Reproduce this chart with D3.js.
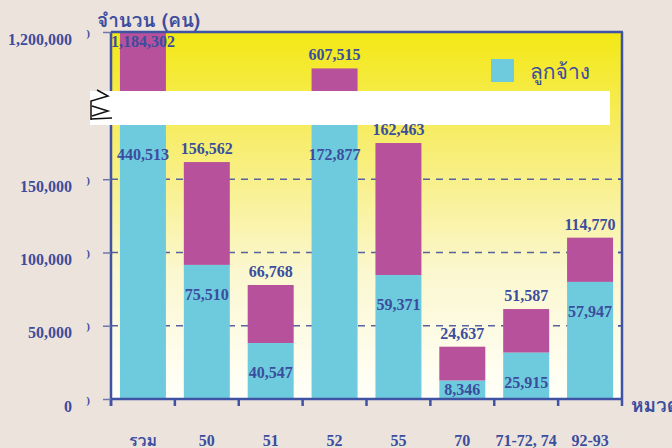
<!DOCTYPE html>
<html>
<head>
<meta charset="utf-8">
<script src="https://cdnjs.cloudflare.com/ajax/libs/d3/7.8.5/d3.min.js"></script>
<style>
  body { margin: 0; background: #ece4dc; }
  svg { display: block; }
</style>
</head>
<body>
<div id="chart"></div>
<script>
// categories (หมวด)
const categories = ["รวม", "50", "51", "52", "55", "70", "71-72, 74", "92-93"];
// numbers printed on the chart
const totalLabels = [1184302, 156562, 66768, 607515, 162463, 24637, 51587, 114770];
const employeeLabels = [440513, 75510, 40547, 172877, 59371, 8346, 25915, 57947];
// bar heights as drawn, read against the axis (the cyan tops of รวม and 52 sit inside the break)
const totalBars = [1184302, 161700, 77800, 607515, 174700, 35700, 61400, 110100];
const employeeBars = [200000, 91500, 38200, 200000, 84600, 12500, 31600, 79900];
// axis ticks
const yTicks = [0, 50000, 100000, 150000, 1200000];
const gridTicks = [50000, 100000, 150000];

const width = 672, height = 448;
const plot = { left: 111, right: 622, top: 32, bottom: 399 };
const brk = { top: 91, bottom: 125 };   // white band of the broken axis

const blue = "#3f52a4";
const textBlue = "#3c4d9e";
const cyan = "#6ecbdd";
const magenta = "#b8519b";
const numFont = "'Liberation Serif', 'Times New Roman', serif";
const thaiFont = "'Norasi', 'Garuda', 'Loma', 'Noto Serif Thai', 'Noto Sans Thai Looped', 'Noto Sans Thai', serif";

const svg = d3.select("#chart").append("svg")
  .attr("width", width)
  .attr("height", height)
  .style("background", "#ece4dc");

// gradient for the plot area
const grad = svg.append("defs").append("linearGradient")
  .attr("id", "bg").attr("x1", 0).attr("y1", 0).attr("x2", 0).attr("y2", 1);
grad.append("stop").attr("offset", "0%").attr("stop-color", "#f3e813");
grad.append("stop").attr("offset", "30%").attr("stop-color", "#f7ed6e");
grad.append("stop").attr("offset", "65%").attr("stop-color", "#fbf7cf");
grad.append("stop").attr("offset", "100%").attr("stop-color", "#fffffa");

// scales: y is broken, lower part 0..187k, upper part up to 1.2M
const x = d3.scaleBand()
  .domain(categories)
  .range([plot.left, plot.right])
  .paddingInner(0.28)
  .paddingOuter(0.14);

const y = d3.scaleLinear()
  .domain([0, 187000, 240000, 1200000])
  .range([plot.bottom, brk.bottom, brk.top, plot.top]);

svg.append("rect")
  .attr("x", plot.left).attr("y", plot.top)
  .attr("width", plot.right - plot.left).attr("height", plot.bottom - plot.top)
  .attr("fill", "url(#bg)");

// dashed gridlines
svg.append("g")
  .selectAll("line")
  .data(gridTicks)
  .join("line")
  .attr("x1", plot.left).attr("x2", plot.right)
  .attr("y1", d => y(d)).attr("y2", d => y(d))
  .attr("stroke", "#56639f")
  .attr("stroke-width", 1.5)
  .attr("stroke-dasharray", "7,6");

// bars: magenta = total, cyan = ลูกจ้าง
svg.append("g")
  .selectAll("rect")
  .data(categories)
  .join("rect")
  .attr("x", d => x(d))
  .attr("width", x.bandwidth())
  .attr("y", (d, i) => y(totalBars[i]))
  .attr("height", (d, i) => y(employeeBars[i]) - y(totalBars[i]))
  .attr("fill", magenta);

svg.append("g")
  .selectAll("rect")
  .data(categories)
  .join("rect")
  .attr("x", d => x(d))
  .attr("width", x.bandwidth())
  .attr("y", (d, i) => y(employeeBars[i]))
  .attr("height", (d, i) => plot.bottom - y(employeeBars[i]))
  .attr("fill", cyan);

// frame
const frame = svg.append("g").attr("stroke", blue).attr("stroke-width", 2.5).attr("fill", "none");
frame.append("line").attr("x1", plot.left).attr("x2", plot.right + 1).attr("y1", plot.top).attr("y2", plot.top);
frame.append("line").attr("x1", plot.right).attr("x2", plot.right).attr("y1", plot.top).attr("y2", plot.bottom);
frame.append("line").attr("x1", plot.left).attr("x2", plot.left).attr("y1", plot.top).attr("y2", plot.bottom + 7);
frame.append("line").attr("x1", plot.left).attr("x2", plot.right + 1).attr("y1", plot.bottom).attr("y2", plot.bottom);

// x ticks on the band edges
svg.append("g")
  .selectAll("line")
  .data(d3.range(categories.length + 1))
  .join("line")
  .attr("x1", i => plot.left + i * x.step())
  .attr("x2", i => plot.left + i * x.step())
  .attr("y1", plot.bottom).attr("y2", plot.bottom + 7)
  .attr("stroke", blue).attr("stroke-width", 2.5);

// y axis
const yAxis = svg.append("g")
  .attr("transform", `translate(${plot.left},0)`)
  .call(d3.axisLeft(y).tickValues(yTicks).tickSize(8).tickSizeOuter(0).tickPadding(31)
    .tickFormat(d3.format(",")));
yAxis.select(".domain").remove();
yAxis.selectAll(".tick line").attr("stroke", "#6b77b0").attr("stroke-width", 1.5);
yAxis.selectAll(".tick text")
  .attr("y", 7)
  .style("font-family", numFont)
  .style("font-size", "16px")
  .style("font-weight", "bold")
  .attr("fill", textBlue);
// small stray marks beside the ticks
yAxis.selectAll(".tick").append("text")
  .attr("x", -21).attr("y", 4)
  .text(")")
  .style("font-family", numFont)
  .style("font-size", "11px")
  .style("font-weight", "bold")
  .attr("fill", textBlue);

// right-side small ticks
svg.append("g")
  .selectAll("line")
  .data(gridTicks)
  .join("line")
  .attr("x1", plot.right - 4).attr("x2", plot.right)
  .attr("y1", d => y(d)).attr("y2", d => y(d))
  .attr("stroke", blue).attr("stroke-width", 1.5);

// axis break band and zigzag
svg.append("rect")
  .attr("x", 90).attr("y", brk.top)
  .attr("width", 610 - 90).attr("height", brk.bottom - brk.top)
  .attr("fill", "#ffffff");
svg.append("path")
  .attr("d", "M97,90 L108,96 L91,101 L91,120 M92,106 L108,111 L92,116 M91,119 L112,118")
  .attr("fill", "none").attr("stroke", "#111").attr("stroke-width", 1.5);

// category labels
svg.append("g")
  .selectAll("text")
  .data(categories)
  .join("text")
  .attr("x", d => x(d) + x.bandwidth() / 2)
  .attr("y", 446)
  .attr("text-anchor", "middle")
  .text(d => d)
  .style("font-family", d => /^[0-9]/.test(d) ? numFont : thaiFont)
  .style("font-size", "16px")
  .style("font-weight", "bold")
  .attr("fill", textBlue);

// total labels above the bars
svg.append("g")
  .selectAll("text")
  .data(categories)
  .join("text")
  .attr("x", d => x(d) + x.bandwidth() / 2)
  .attr("y", (d, i) => Math.max(y(totalBars[i]) - 8, plot.top + 15))
  .attr("text-anchor", "middle")
  .text((d, i) => d3.format(",")(totalLabels[i]))
  .style("font-family", numFont)
  .style("font-size", "16px")
  .style("font-weight", "bold")
  .attr("fill", textBlue);

// ลูกจ้าง labels inside the cyan bars
svg.append("g")
  .selectAll("text")
  .data(categories)
  .join("text")
  .attr("x", d => x(d) + x.bandwidth() / 2)
  .attr("y", (d, i) => {
    const top = Math.max(y(employeeBars[i]), brk.bottom);
    return Math.min(top + 35, plot.bottom - 4);
  })
  .attr("text-anchor", "middle")
  .text((d, i) => d3.format(",")(employeeLabels[i]))
  .style("font-family", numFont)
  .style("font-size", "16px")
  .style("font-weight", "bold")
  .attr("fill", textBlue);

// axis titles
svg.append("text")
  .attr("x", 97).attr("y", 27)
  .text("จำนวน (คน)")
  .style("font-family", thaiFont)
  .style("font-size", "19px")
  .style("font-weight", "bold")
  .attr("fill", textBlue);

svg.append("text")
  .attr("x", 631).attr("y", 412)
  .text("หมวด")
  .style("font-family", thaiFont)
  .style("font-size", "19px")
  .style("font-weight", "bold")
  .attr("fill", textBlue);

// legend
svg.append("rect")
  .attr("x", 491).attr("y", 59).attr("width", 23).attr("height", 23)
  .attr("fill", cyan);
svg.append("text")
  .attr("x", 530).attr("y", 79)
  .text("ลูกจ้าง")
  .style("font-family", thaiFont)
  .style("font-size", "21px")
  .attr("fill", textBlue);
</script>
</body>
</html>
